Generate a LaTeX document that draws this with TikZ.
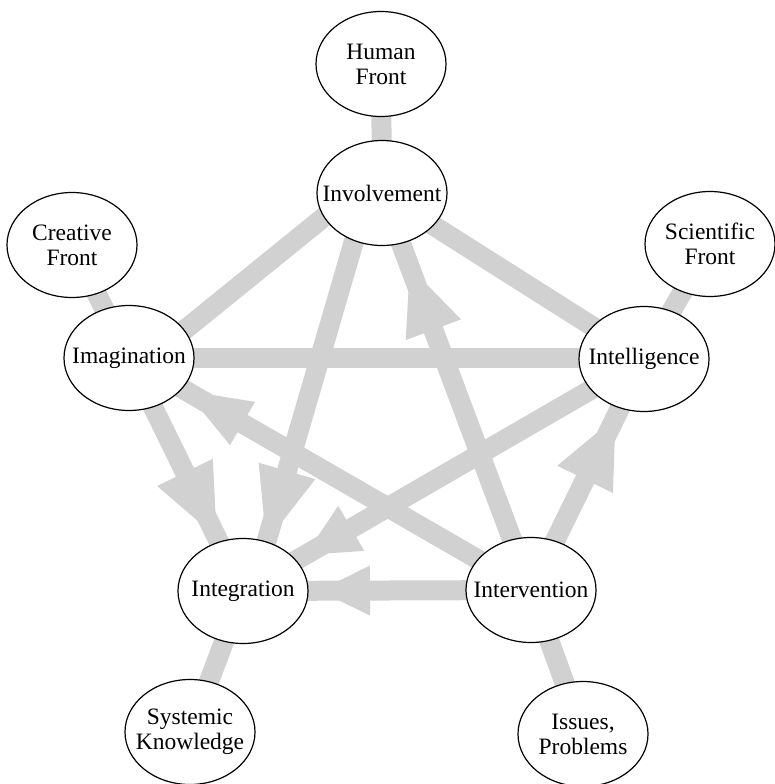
\documentclass[tikz,border=0pt]{standalone}
\usepackage{fontspec}
\setmainfont{Liberation Serif}
\usetikzlibrary{calc,shapes.geometric,decorations.markings,backgrounds}
\definecolor{bandgray}{RGB}{209,209,209}
\tikzset{
  ell/.style={ellipse, draw=black, line width=1.2pt, fill=white,
    minimum width=130pt, minimum height=105pt, inner sep=0pt},
  lbl/.style={align=center, font=\fontsize{23.5}{25}\selectfont, inner sep=0pt},
  band/.style={draw=bandgray, line width=20pt},
  % filled arrowhead: #1 = distance of the tip from the path end,
  % #2 = head length, #3 = half of the head width
  headmark/.style n args={3}{postaction={decorate, decoration={markings,
    mark=at position -#1 with {\fill[bandgray] (0pt,0pt) -- (-#2,#3) -- (-#2,-#3) -- cycle;}}}},
}
\begin{document}
\begin{tikzpicture}[x=1pt,y=-1pt]
\useasboundingbox (0,0) rectangle (774,784);

% the five stages
\node[ell] (inv)   at (382,193) {};
\node[ell] (ima)   at (129,358) {};
\node[ell] (intel) at (644,359) {};
\node[ell] (itg)   at (243,591) {};
\node[ell] (itv)   at (531,590) {};
% the fronts they draw on
\node[ell] (hf) at (381,64)  {};
\node[ell] (cf) at (72,245)  {};
\node[ell] (sf) at (710,244) {};
\node[ell] (sk) at (190,732) {};
\node[ell] (ip) at (583,734) {};

\node[lbl] (inv-t)   at (inv)   {Involvement};
\node[lbl] (ima-t)   at (ima)   {Imagination};
\node[lbl] (intel-t) at (intel) {Intelligence};
\node[lbl] (itg-t)   at (itg)   {Integration};
\node[lbl] (itv-t)   at (itv)   {Intervention};
\node[lbl] (hf-t) at (hf) {Human\\Front};
\node[lbl] (cf-t) at (cf) {Creative\\Front};
\node[lbl] (sf-t) at (sf) {Scientific\\Front};
\node[lbl] (sk-t) at (sk) {Systemic\\Knowledge};
\node[lbl] (ip-t) at (ip) {Issues,\\Problems};

\begin{scope}[on background layer]
  % links to the fronts
  \draw[band] (hf.center) -- (inv.center);
  \draw[band] (cf.center) -- (ima.center);
  \draw[band] (sf.center) -- (intel.center);
  \draw[band] (itg.center) -- (sk.center);
  \draw[band] (itv.center) -- (ip.center);
  % undirected links of the pentagon
  \draw[band] ($(ima)+(0,17)$) -- ($(inv)+(0,-23)$);
  \draw[band] (inv.center) -- (intel.center);
  \draw[band] (ima.center) -- (ima.center -| intel.center);
  % directed links
  \draw[band, headmark={60pt}{72pt}{31pt}]   (ima.center) -- (itg.center);
  \draw[band, headmark={51pt}{74pt}{29.5pt}] ($(inv)+(-14,0)$) -- ($(itg)+(9,0)$);
  \draw[band, headmark={65pt}{66pt}{25pt}]   (itv.center) -- (ima.center);
  \draw[band, headmark={72pt}{53pt}{26pt}]   (intel.center) -- (itg.center);
  \draw[band, headmark={79pt}{67pt}{29.5pt}] (itv.center) -- (inv.center);
  \draw[band, headmark={65pt}{69pt}{31pt}]   (itv.center) -- (intel.center);
  \draw[band, headmark={76pt}{51pt}{25pt}]   (itv.center) -- (itg.center);
\end{scope}
\end{tikzpicture}
\end{document}
